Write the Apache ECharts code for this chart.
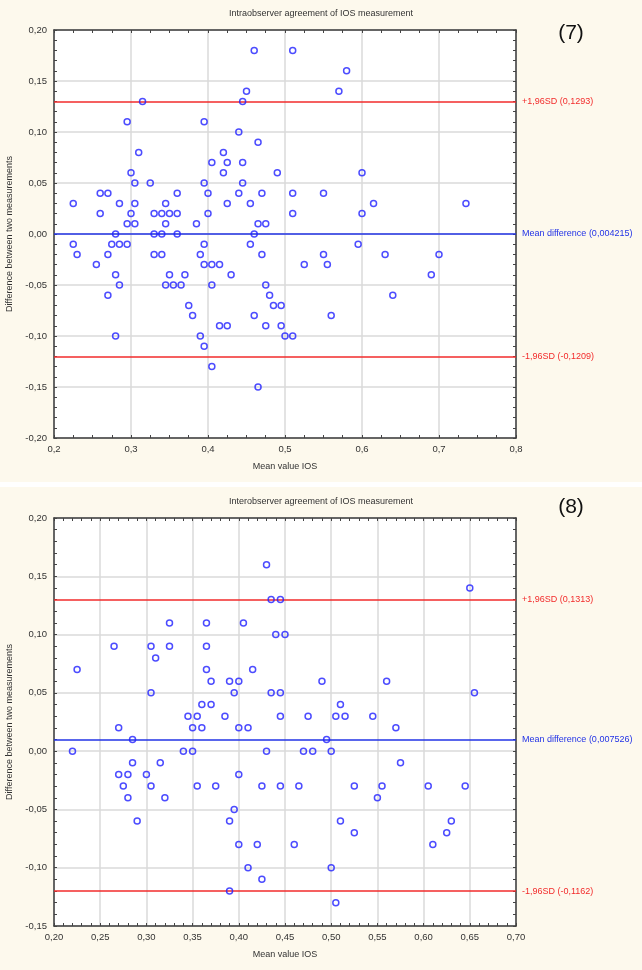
<!DOCTYPE html>
<html>
<head>
<meta charset="utf-8">
<script src="https://cdn.jsdelivr.net/npm/echarts@6/dist/echarts.min.js"></script>
<style>
html,body{margin:0;padding:0;background:#fff;}
#c{width:642px;height:970px;}
</style>
</head>
<body>
<div id="c"></div>
<script>
// ---- Data: Intraobserver (7) ----
var intraX = [0.225,0.26,0.27,0.26,0.28,0.285,0.295,0.295,0.30,0.30,0.305,0.305,0.305,0.31,0.315,0.325,0.33,0.33,0.34,0.34,0.345,0.345,0.35,0.36,0.36,0.36,0.385,0.395,0.395,0.40,0.40,0.405,0.42,0.42,0.425,0.425,0.44,0.44,0.445,0.445,0.445,0.45,0.455,0.46,0.46,0.465,0.465,0.47,0.475,0.49,0.51,0.51,0.51,0.58,0.57,0.60,0.55,0.615,0.60,0.735,
  0.225,0.23,0.255,0.275,0.285,0.295,0.27,0.28,0.285,0.27,0.28,0.33,0.34,0.35,0.345,0.355,0.365,0.37,0.375,0.38,0.39,0.395,0.395,0.39,0.395,0.405,0.415,0.405,0.405,0.415,0.425,0.43,0.455,0.47,0.46,0.465,0.475,0.48,0.485,0.495,0.475,0.495,0.50,0.51,0.525,0.595,0.55,0.63,0.70,0.555,0.69,0.64,0.56];
var intraY = [0.03,0.04,0.04,0.02,0.00,0.03,0.11,0.01,0.06,0.02,0.05,0.03,0.01,0.08,0.13,0.05,0.02,0.00,0.02,0.00,0.03,0.01,0.02,0.04,0.02,0.00,0.01,0.11,0.05,0.04,0.02,0.07,0.08,0.06,0.07,0.03,0.10,0.04,0.13,0.07,0.05,0.14,0.03,0.18,0.00,0.09,0.01,0.04,0.01,0.06,0.18,0.04,0.02,0.16,0.14,0.06,0.04,0.03,0.02,0.03,
  -0.01,-0.02,-0.03,-0.01,-0.01,-0.01,-0.02,-0.04,-0.05,-0.06,-0.10,-0.02,-0.02,-0.04,-0.05,-0.05,-0.05,-0.04,-0.07,-0.08,-0.10,-0.11,-0.01,-0.02,-0.03,-0.03,-0.03,-0.05,-0.13,-0.09,-0.09,-0.04,-0.01,-0.02,-0.08,-0.15,-0.05,-0.06,-0.07,-0.07,-0.09,-0.09,-0.10,-0.10,-0.03,-0.01,-0.02,-0.02,-0.02,-0.03,-0.04,-0.06,-0.08];
var intraMean = 0.004215, intraUpper = 0.1293, intraLower = -0.1209;
var intraXTicks = {min:0.2, max:0.8, interval:0.1};
var intraYTicks = {min:-0.2, max:0.2, interval:0.05};

// ---- Data: Interobserver (8) ----
var interX = [0.225,0.265,0.305,0.31,0.305,0.325,0.325,0.365,0.365,0.365,0.37,0.36,0.37,0.345,0.355,0.385,0.39,0.40,0.395,0.405,0.415,0.43,0.435,0.445,0.44,0.45,0.435,0.445,0.445,0.475,0.65,0.49,0.56,0.655,0.51,0.505,0.515,0.545,0.27,0.35,0.36,0.40,0.41,0.57,0.285,0.495,
  0.22,0.34,0.35,0.43,0.47,0.48,0.50,
  0.285,0.315,0.575,0.27,0.28,0.30,0.40,0.275,0.305,0.355,0.375,0.425,0.445,0.465,0.525,0.555,0.605,0.645,0.28,0.32,0.55,0.395,0.29,0.39,0.51,0.63,0.525,0.625,0.40,0.42,0.46,0.61,0.41,0.50,0.425,0.39,0.505];
var interY = [0.07,0.09,0.09,0.08,0.05,0.11,0.09,0.11,0.09,0.07,0.06,0.04,0.04,0.03,0.03,0.03,0.06,0.06,0.05,0.11,0.07,0.16,0.13,0.13,0.10,0.10,0.05,0.05,0.03,0.03,0.14,0.06,0.06,0.05,0.04,0.03,0.03,0.03,0.02,0.02,0.02,0.02,0.02,0.02,0.01,0.01,
  0.00,0.00,0.00,0.00,0.00,0.00,0.00,
  -0.01,-0.01,-0.01,-0.02,-0.02,-0.02,-0.02,-0.03,-0.03,-0.03,-0.03,-0.03,-0.03,-0.03,-0.03,-0.03,-0.03,-0.03,-0.04,-0.04,-0.04,-0.05,-0.06,-0.06,-0.06,-0.06,-0.07,-0.07,-0.08,-0.08,-0.08,-0.08,-0.10,-0.10,-0.11,-0.12,-0.13];
var interMean = 0.007526, interUpper = 0.1313, interLower = -0.1162;
var interXTicks = {min:0.2, max:0.7, interval:0.05};
var interYTicks = {min:-0.15, max:0.2, interval:0.05};

var titles = ['Intraobserver agreement of IOS measurement', 'Interobserver agreement of IOS measurement'];
var panelTags = ['(7)', '(8)'];
var xName = 'Mean value IOS';
var yName = 'Difference between two measurements';

// ---- Chart ----
var FONT = '"Liberation Sans", Arial, sans-serif';
var RED = '#f22b2b', BLUE = '#2233e6', PT = '#1f1fff';
var FS = 9, TFS = 9.5;
function fmt(d){ return function(v){ return v.toFixed(d).replace('.', ','); }; }
function pairs(xs, ys){ return xs.map(function(x,i){ return [x, ys[i]]; }); }
function numStr(v){ return String(v).replace('.', ','); }

var grids = [
  {left:54, right:126, top:30, height:408, show:true, backgroundColor:'#fff', borderWidth:0, outerBoundsMode:'none', containLabel:false},
  {left:54, right:126, top:518, height:408, show:true, backgroundColor:'#fff', borderWidth:0, outerBoundsMode:'none', containLabel:false}
];

var axisLineStyle = {color:'#3c3c3c', width:1.5};
function mainX(grid, t, dec, minorSplit){
  return {type:'value', gridIndex:grid, position:'bottom', min:t.min, max:t.max, interval:t.interval,
    name:xName, nameLocation:'middle', nameGap:24, nameTextStyle:{fontFamily:FONT, fontSize:FS, color:'#333'},
    axisLine:{show:true, onZero:false, lineStyle:axisLineStyle},
    axisTick:{show:true, inside:true, length:3, lineStyle:{color:'#444'}},
    minorTick:{show:true, splitNumber:minorSplit, length:3, lineStyle:{color:'#444'}},
    axisLabel:{formatter:fmt(dec), fontFamily:FONT, fontSize:TFS, color:'#333', margin:6, showMinLabel:true, showMaxLabel:true},
    splitLine:{show:true, lineStyle:{color:'#dadada', width:1.5}}};
}
function topX(grid, t, minorSplit){
  return {type:'value', gridIndex:grid, position:'top', min:t.min, max:t.max, interval:t.interval,
    axisLine:{show:true, onZero:false, lineStyle:axisLineStyle},
    axisTick:{show:true, inside:true, length:3, lineStyle:{color:'#444'}},
    minorTick:{show:true, splitNumber:minorSplit, length:3, lineStyle:{color:'#444'}},
    axisLabel:{show:false}, splitLine:{show:false}};
}
function mainY(grid, t){
  return {type:'value', gridIndex:grid, position:'left', min:t.min, max:t.max, interval:t.interval,
    name:yName, nameLocation:'middle', nameGap:40, nameRotate:90, nameTextStyle:{fontFamily:FONT, fontSize:FS, color:'#333'},
    axisLine:{show:true, onZero:false, lineStyle:axisLineStyle},
    axisTick:{show:true, inside:true, length:3, lineStyle:{color:'#444'}},
    minorTick:{show:true, splitNumber:5, length:3, lineStyle:{color:'#444'}},
    axisLabel:{formatter:fmt(2), fontFamily:FONT, fontSize:TFS, color:'#333', margin:7, showMinLabel:true, showMaxLabel:true},
    splitLine:{show:true, lineStyle:{color:'#dadada', width:1.5}}};
}
function rightY(grid, t){
  return {type:'value', gridIndex:grid, position:'right', min:t.min, max:t.max, interval:t.interval,
    axisLine:{show:true, onZero:false, lineStyle:axisLineStyle},
    axisTick:{show:true, inside:true, length:3, lineStyle:{color:'#444'}},
    minorTick:{show:true, splitNumber:5, length:3, lineStyle:{color:'#444'}},
    axisLabel:{show:false}, splitLine:{show:false}};
}

function lines(mean, up, lo){
  function lbl(text, color){ return {show:true, position:'end', distance:6, formatter:text, color:color, fontFamily:FONT, fontSize:FS}; }
  return {silent:true, symbol:['none','none'], animation:false,
    data:[
      {yAxis:up, lineStyle:{color:RED, width:1.5, type:'solid'}, label:lbl('+1,96SD (' + numStr(up) + ')', RED)},
      {yAxis:mean, lineStyle:{color:BLUE, width:1.5, type:'solid'}, label:lbl('Mean difference (' + numStr(mean) + ')', BLUE)},
      {yAxis:lo, lineStyle:{color:RED, width:1.5, type:'solid'}, label:lbl('-1,96SD (' + numStr(lo) + ')', RED)}
    ]};
}

var pointStyle = {color:'rgba(0,0,0,0)', borderColor:PT, borderWidth:1.5};

var option = {
  animation:false,
  backgroundColor:'#fdf9ed',
  grid:grids,
  xAxis:[mainX(0, intraXTicks, 1, 4), topX(0, intraXTicks, 4), mainX(1, interXTicks, 2, 5), topX(1, interXTicks, 5)],
  yAxis:[mainY(0, intraYTicks), rightY(0, intraYTicks), mainY(1, interYTicks), rightY(1, interYTicks)],
  series:[
    {type:'scatter', xAxisIndex:0, yAxisIndex:0, data:pairs(intraX, intraY), symbol:'circle', symbolSize:6, itemStyle:pointStyle, markLine:lines(intraMean, intraUpper, intraLower), z:5},
    {type:'scatter', xAxisIndex:2, yAxisIndex:2, data:pairs(interX, interY), symbol:'circle', symbolSize:6, itemStyle:pointStyle, markLine:lines(interMean, interUpper, interLower), z:5}
  ],
  graphic:[
    {type:'rect', shape:{x:0, y:482, width:642, height:5}, style:{fill:'#ffffff'}, silent:true},
    {type:'text', x:321, y:14, style:{text:titles[0], fontFamily:FONT, fontSize:FS, fill:'#333', textAlign:'center', textVerticalAlign:'middle'}},
    {type:'text', x:321, y:502, style:{text:titles[1], fontFamily:FONT, fontSize:FS, fill:'#333', textAlign:'center', textVerticalAlign:'middle'}},
    {type:'text', x:571, y:33, style:{text:panelTags[0], fontFamily:FONT, fontSize:21, fill:'#111', textAlign:'center', textVerticalAlign:'middle'}},
    {type:'text', x:571, y:507, style:{text:panelTags[1], fontFamily:FONT, fontSize:21, fill:'#111', textAlign:'center', textVerticalAlign:'middle'}}
  ]
};
var chart = echarts.init(document.getElementById('c'), null, {renderer:'canvas'});
chart.setOption(option);
</script>
</body>
</html>
